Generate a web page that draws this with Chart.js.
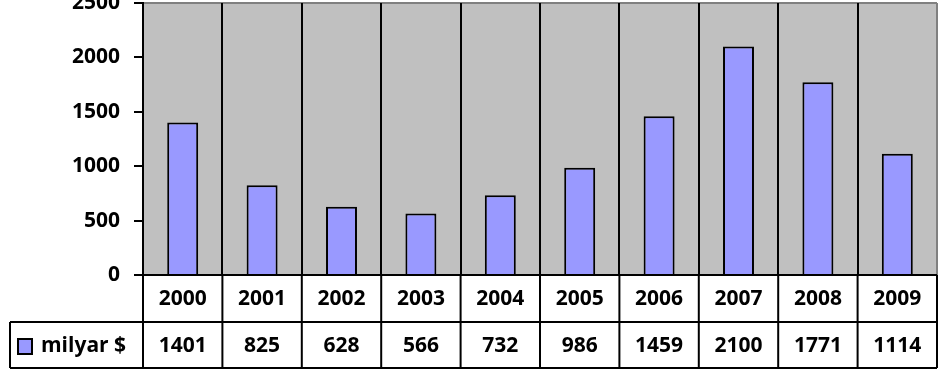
<!DOCTYPE html>
<html>
<head>
<meta charset="utf-8">
<script src="https://cdn.jsdelivr.net/npm/chart.js@4/dist/chart.umd.min.js"></script>
<style>
html,body{margin:0;padding:0;background:#fff;}
canvas{display:block;}
</style>
</head>
<body>
<canvas id="c" width="950" height="371"></canvas>
<script>
const categories = ['2000','2001','2002','2003','2004','2005','2006','2007','2008','2009'];
const values = [1401, 825, 628, 566, 732, 986, 1459, 2100, 1771, 1114];
const seriesName = 'milyar $';
const yTicks = [0, 500, 1000, 1500, 2000, 2500];

const FONT = '"Open Sans", Lato, sans-serif';
const BAR_COLOR = '#9999FF';

const tablePlugin = {
  id: 'tablePlugin',
  beforeDraw(chart) {
    const {ctx, chartArea: a} = chart;
    ctx.save();
    ctx.fillStyle = '#C0C0C0';
    ctx.fillRect(a.left, a.top, a.right - a.left, a.bottom - a.top);
    ctx.strokeStyle = '#808080';
    ctx.lineWidth = 2;
    ctx.beginPath();
    ctx.moveTo(a.left, a.top); ctx.lineTo(a.right, a.top);
    ctx.moveTo(a.right, a.top); ctx.lineTo(a.right, a.bottom);
    ctx.stroke();
    ctx.restore();
  },
  afterDraw(chart) {
    const {ctx, chartArea: a} = chart;
    const xs = chart.scales.x;
    const n = categories.length;
    const half = (xs.getPixelForValue(1) - xs.getPixelForValue(0)) / 2;
    const row1Top = a.bottom, row1Bot = 322, row2Bot = 368, legLeft = 10;
    ctx.save();
    ctx.strokeStyle = '#000';
    ctx.lineWidth = 2;
    ctx.beginPath();
    ctx.moveTo(a.left, row1Top); ctx.lineTo(a.right, row1Top);
    ctx.moveTo(legLeft, row1Bot); ctx.lineTo(a.right, row1Bot);
    ctx.moveTo(legLeft, row2Bot); ctx.lineTo(a.right, row2Bot);
    ctx.moveTo(legLeft, row1Bot); ctx.lineTo(legLeft, row2Bot);
    for (let i = 0; i <= n; i++) {
      const x = i < n ? xs.getPixelForValue(i) - half : xs.getPixelForValue(n - 1) + half;
      ctx.moveTo(x, row1Top); ctx.lineTo(x, row2Bot);
    }
    ctx.stroke();

    ctx.fillStyle = '#000';
    ctx.font = 'bold 21px ' + FONT;
    ctx.textAlign = 'center';
    ctx.textBaseline = 'middle';
    for (let i = 0; i < n; i++) {
      const cx = xs.getPixelForValue(i);
      ctx.fillText(categories[i], cx, (row1Top + row1Bot) / 2 + 1);
      ctx.fillText(String(values[i]), cx, (row1Bot + row2Bot) / 2 + 1);
    }
    // legend
    ctx.fillStyle = BAR_COLOR;
    ctx.fillRect(18, 339, 14, 15);
    ctx.strokeRect(18, 339, 14, 15);
    ctx.fillStyle = '#000';
    ctx.textAlign = 'left';
    ctx.fillText(seriesName, 41, (row1Bot + row2Bot) / 2 + 1);
    ctx.restore();
  }
};

new Chart(document.getElementById('c'), {
  type: 'bar',
  data: {
    labels: categories,
    datasets: [{
      label: seriesName,
      data: values,
      backgroundColor: BAR_COLOR,
      borderColor: '#000',
      borderWidth: 2,
      borderSkipped: 'bottom',
      barPercentage: 0.39,
      categoryPercentage: 1
    }]
  },
  options: {
    responsive: false,
    animation: false,
    devicePixelRatio: 1,
    layout: { padding: { left: 0, top: 3, right: 13, bottom: 96 } },
    plugins: { legend: { display: false }, tooltip: { enabled: false } },
    scales: {
      x: {
        offset: true,
        ticks: { display: false },
        grid: {
          offset: true,
          drawTicks: false,
          lineWidth: 2,
          color: (c) => (c.type === 'tick' ? '#000' : 'rgba(0,0,0,0)')
        },
        border: { display: false },
        afterFit(s) { s.height = 0; s.paddingLeft = 0; s.paddingRight = 0; }
      },
      y: {
        min: 0,
        max: 2500,
        afterBuildTicks(s) { s.ticks = yTicks.map(v => ({ value: v })); },
        ticks: {
          color: '#000',
          padding: 14,
          font: { family: FONT, size: 21, weight: 'bold' },
          callback: (v) => String(v)
        },
        grid: {
          drawOnChartArea: false,
          drawTicks: true,
          tickLength: 9,
          color: '#000',
          lineWidth: 2
        },
        border: { display: true, color: '#000', width: 2 },
        afterFit(s) { s.width = 143; s.paddingTop = 0; s.paddingBottom = 0; }
      }
    }
  },
  plugins: [tablePlugin]
});
</script>
</body>
</html>
